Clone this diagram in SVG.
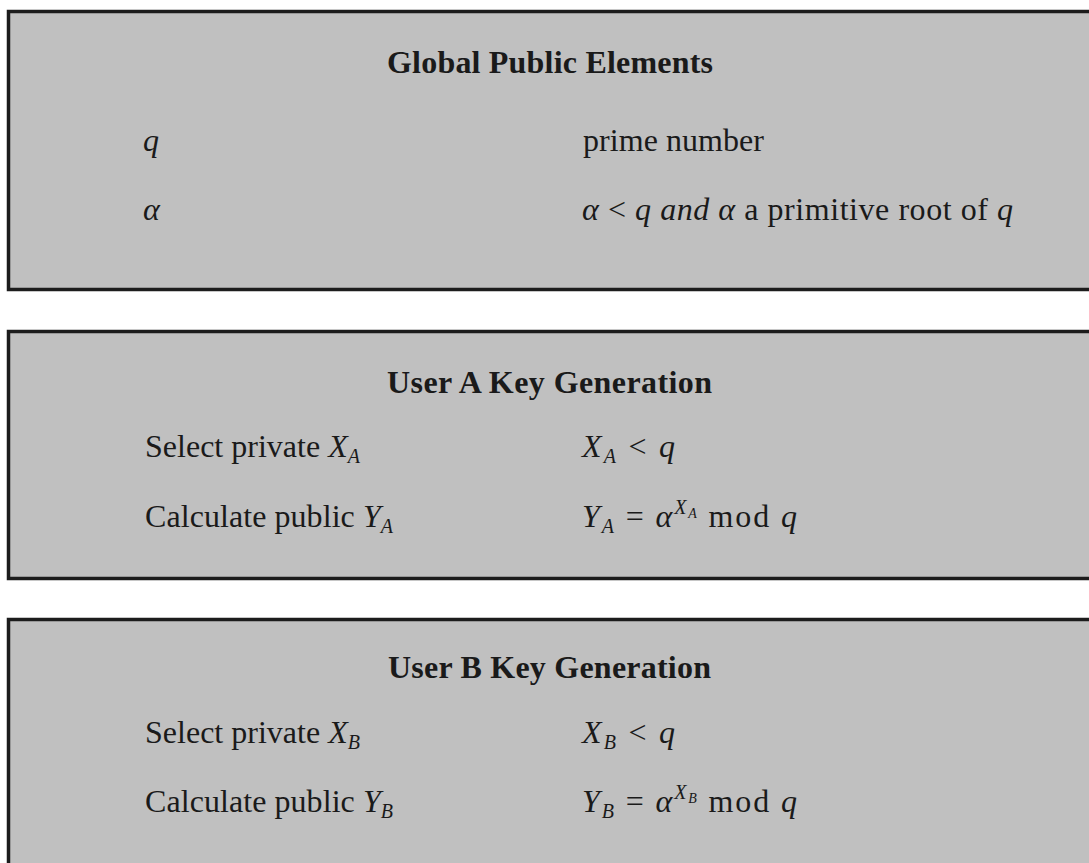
<svg xmlns="http://www.w3.org/2000/svg" width="1089" height="863" viewBox="0 0 1089 863">
<style>
.box{fill:#c0c0c0;stroke:#1c1c1c;stroke-width:3.5}
.t{font-family:"Liberation Serif","Times New Roman",serif;fill:#1a1a1a}
.title{font-size:32px;font-weight:bold}
.r{font-size:32px}
.i{font-style:italic}
.sub{font-size:20px;font-style:italic}
.ss{font-size:14px;font-style:italic}
</style>
<rect width="1089" height="863" fill="#ffffff"/>
<g id="global">
<rect class="box" x="8.5" y="11.5" width="1090" height="278"/>
<text class="t title" x="387" y="73" textLength="326">Global Public Elements</text>
<text class="t r i" x="143" y="151">q</text>
<text class="t r" x="583" y="151" textLength="181">prime number</text>
<text class="t r i" x="143" y="220">α</text>
<text class="t r" x="582" y="220" textLength="431"><tspan class="i">α</tspan> &lt; <tspan class="i">q and α</tspan> a primitive root of <tspan class="i">q</tspan></text>
</g>
<g id="userA">
<rect class="box" x="8.5" y="331.5" width="1090" height="247"/>
<text class="t title" x="387" y="393" textLength="325">User A Key Generation</text>
<text class="t r" x="145" y="457" textLength="215">Select private <tspan class="i">X</tspan><tspan class="sub" dy="6">A</tspan></text>
<text class="t r" x="582" y="457" textLength="93"><tspan class="i">X</tspan><tspan class="sub" dy="6">A</tspan><tspan dy="-6"> &lt; </tspan><tspan class="i">q</tspan></text>
<text class="t r" x="145" y="527" textLength="248">Calculate public <tspan class="i">Y</tspan><tspan class="sub" dy="6">A</tspan></text>
<text class="t r" x="582" y="527" textLength="215"><tspan class="i">Y</tspan><tspan class="sub" dy="6">A</tspan><tspan dy="-6"> = </tspan><tspan class="i">α</tspan><tspan class="sub" dy="-13">X</tspan><tspan class="ss" dy="4">A</tspan><tspan dy="9"> mod </tspan><tspan class="i">q</tspan></text>
</g>
<g id="userB">
<rect class="box" x="8.5" y="619.5" width="1090" height="260"/>
<text class="t title" x="388" y="678" textLength="323">User B Key Generation</text>
<text class="t r" x="145" y="743" textLength="215">Select private <tspan class="i">X</tspan><tspan class="sub" dy="6">B</tspan></text>
<text class="t r" x="582" y="743" textLength="93"><tspan class="i">X</tspan><tspan class="sub" dy="6">B</tspan><tspan dy="-6"> &lt; </tspan><tspan class="i">q</tspan></text>
<text class="t r" x="145" y="812" textLength="248">Calculate public <tspan class="i">Y</tspan><tspan class="sub" dy="6">B</tspan></text>
<text class="t r" x="582" y="812" textLength="215"><tspan class="i">Y</tspan><tspan class="sub" dy="6">B</tspan><tspan dy="-6"> = </tspan><tspan class="i">α</tspan><tspan class="sub" dy="-13">X</tspan><tspan class="ss" dy="4">B</tspan><tspan dy="9"> mod </tspan><tspan class="i">q</tspan></text>
</g>
<g id="connectors"></g>
</svg>
